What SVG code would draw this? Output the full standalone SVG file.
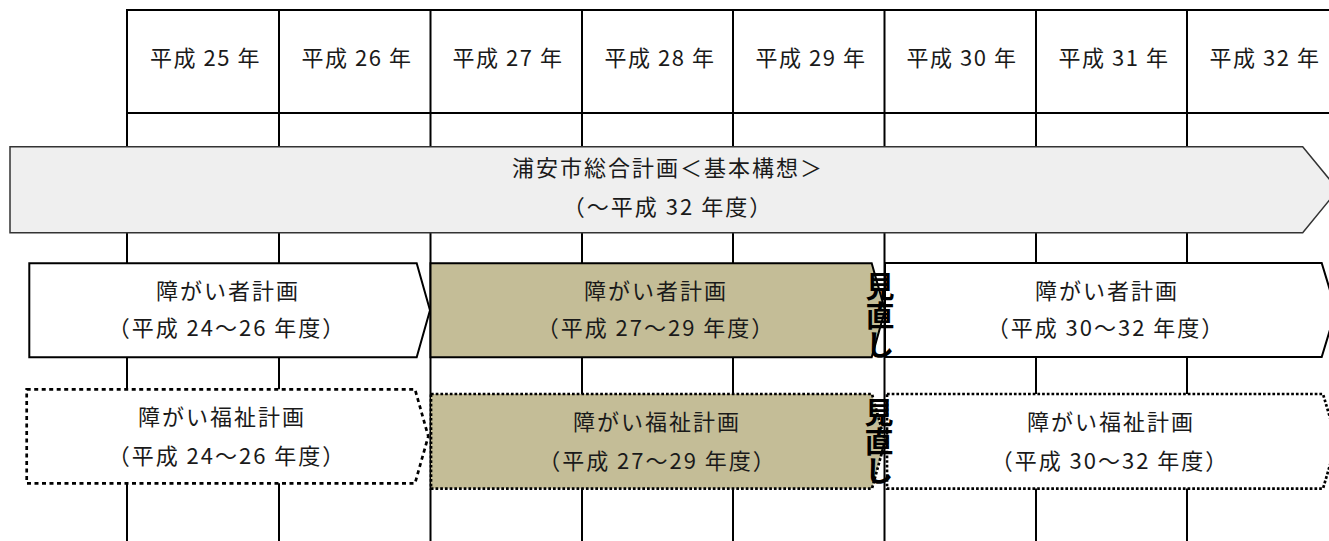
<svg xmlns="http://www.w3.org/2000/svg" width="1329" height="541" viewBox="0 0 1329 541">
<style>
.grid{stroke:#000;stroke-width:2;fill:none}
.t{font-family:"Noto Sans CJK JP","Noto Sans",sans-serif;font-size:22px;letter-spacing:2px;fill:#1a1a1a;text-anchor:middle}
.h{letter-spacing:1.5px}
.v{font-family:"Noto Sans CJK JP","Noto Sans",sans-serif;font-size:29px;font-weight:bold;fill:#000;writing-mode:vertical-rl;text-orientation:upright}
.solid{stroke:#000;stroke-width:2;stroke-linejoin:miter}
.dash{stroke:#000;stroke-width:2.7;stroke-dasharray:4 3.5;fill:#fff}
.dot{stroke:#000;stroke-width:2.7;stroke-dasharray:2.7 2}
.tan{fill:#c4bd97}
.white{fill:#fff}
</style>
<rect width="1329" height="541" fill="#fff"/>
<g id="grid" class="grid">
<line x1="126" y1="10" x2="1329" y2="10"/>
<line x1="127" y1="113" x2="1329" y2="113"/>
<line x1="127" y1="9" x2="127" y2="541"/>
<line x1="279" y1="9" x2="279" y2="541"/>
<line x1="430.5" y1="9" x2="430.5" y2="541"/>
<line x1="582" y1="9" x2="582" y2="541"/>
<line x1="733" y1="9" x2="733" y2="541"/>
<line x1="884.5" y1="9" x2="884.5" y2="541"/>
<line x1="1036" y1="9" x2="1036" y2="541"/>
<line x1="1187" y1="9" x2="1187" y2="541"/>
</g>
<g id="headers">
<text class="t h" x="205.5" y="66">平成 25 年</text>
<text class="t h" x="357" y="66">平成 26 年</text>
<text class="t h" x="508" y="66">平成 27 年</text>
<text class="t h" x="660" y="66">平成 28 年</text>
<text class="t h" x="811" y="66">平成 29 年</text>
<text class="t h" x="962" y="66">平成 30 年</text>
<text class="t h" x="1114" y="66">平成 31 年</text>
<text class="t h" x="1265" y="66">平成 32 年</text>
</g>
<g id="master-plan">
<path d="M10 146.7 H1302.7 L1338 189.7 L1302.7 232.7 H10 Z" fill="#efefef" stroke="#333" stroke-width="1.5"/>
<text class="t" x="668" y="175.5">浦安市総合計画＜基本構想＞</text>
<text class="t" x="668" y="214.5">（～平成 32 年度）</text>
</g>
<g id="plan-24-26">
<path class="solid white" d="M29.3 263.3 H416.7 L430 310.3 L416.7 357.3 H29.3 Z"/>
<text class="t" x="228" y="299">障がい者計画</text>
<text class="t" x="227" y="336">（平成 24～26 年度）</text>
</g>
<g id="plan-27-29">
<path class="solid tan" d="M430.5 263.3 H871.7 L885 310.3 L871.7 357.3 H430.5 Z"/>
<text class="t" x="656" y="299">障がい者計画</text>
<text class="t" x="656" y="336">（平成 27～29 年度）</text>
</g>
<g id="plan-30-32">
<path class="solid white" d="M885 263 H1321.7 L1336 310 L1321.7 357 H885 Z"/>
<text class="t" x="1107" y="299">障がい者計画</text>
<text class="t" x="1106" y="336">（平成 30～32 年度）</text>
</g>
<g id="welfare-24-26">
<path class="dash" d="M26.7 389.3 H415 L428.3 436.3 L415 483.3 H26.7 Z"/>
<text class="t" x="222" y="424.5">障がい福祉計画</text>
<text class="t" x="227" y="463.5">（平成 24～26 年度）</text>
</g>
<g id="welfare-27-29">
<path class="dot tan" d="M431 394 H872 L885 441.3 L872 488.6 H431 Z"/>
<text class="t" x="657" y="430">障がい福祉計画</text>
<text class="t" x="657.5" y="469">（平成 27～29 年度）</text>
</g>
<g id="welfare-30-32">
<path class="dot white" d="M887 394 H1323 L1337 441.3 L1323 488.6 H887 Z"/>
<text class="t" x="1111" y="430">障がい福祉計画</text>
<text class="t" x="1110" y="469">（平成 30～32 年度）</text>
</g>
<g id="review-1">
<text class="v" x="880" y="272">見直し</text>
</g>
<g id="review-2">
<text class="v" x="879" y="398">見直し</text>
</g>
<g id="connectors"></g>
</svg>
